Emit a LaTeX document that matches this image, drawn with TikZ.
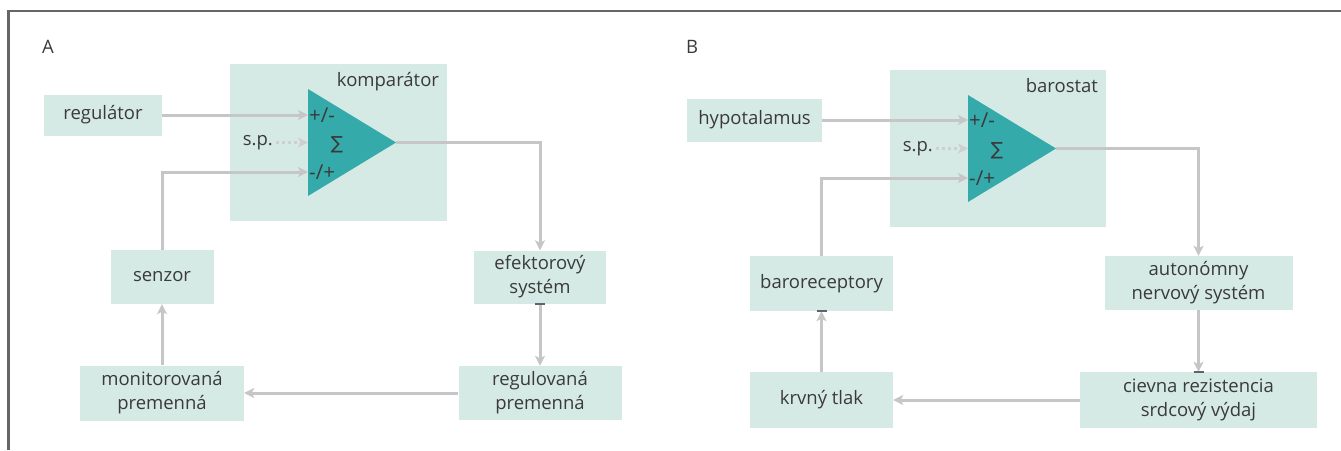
\documentclass[tikz,border=0pt]{standalone}
\usepackage{fontspec}
\setmainfont{Open Sans}
\newfontfamily\sumfont{DejaVu Sans}
\usetikzlibrary{arrows.meta}
\definecolor{mata}{HTML}{D6EAE5}
\definecolor{tyrkys}{HTML}{35AAAA}
\definecolor{siva}{HTML}{C6C6C6}
\definecolor{textsiva}{HTML}{3A3A3A}
\definecolor{ramsiva}{HTML}{666666}
\definecolor{znsiva}{HTML}{5B6470}

\begin{document}
\begin{tikzpicture}[x=1pt, y=-1pt, font=\fontsize{18.5}{24}\selectfont, text=textsiva,
    blok/.style={fill=mata, align=center, inner sep=0pt},
    sipka/.style={draw=siva, line width=3pt, -{Stealth[length=10pt,width=10pt,inset=2.5pt]}},
    tecky/.style={sipka, siva!85, dash pattern=on 3pt off 3pt},
    znak/.style={anchor=west, inner sep=1pt, font=\fontsize{20.5}{24}\selectfont},
    znacka/.style={draw=znsiva, line width=2pt}]
    \useasboundingbox (0,0) rectangle (1341,450);
    \draw[ramsiva, line width=2.2pt] (8.5,450) -- (8.5,11) -- (1341,11);

    % A
    \node (pA) at (48,47) {A};
    \node[blok, minimum width=217pt, minimum height=157pt] (komA) at (338.5,142.5) {};
    \node[anchor=north east, inner sep=8pt] at (komA.north east) {komparátor};
    \fill[tyrkys] (308,89) -- (396,142.5) coordinate (apexA) -- (308,196) -- cycle;
    \coordinate (inA1) at (308,115); \coordinate (inA2) at (308,142.5); \coordinate (inA3) at (308,172);
    \node[znak] at (inA1) {+/-};
    \node[znak] at (inA3) {-/+};
    \node at (337,145) {\sumfont\fontsize{18}{20}\selectfont ∑};
    \node[anchor=east, inner sep=3pt] (spA) at (276,142.5) {s.p.};
    \node[blok, minimum width=118pt, minimum height=41pt] (regA) at (103,115) {regulátor};
    \node[blok, minimum width=132pt, minimum height=53pt] (efA) at (540,277) {efektorový\\systém};
    \node[blok, minimum width=163pt, minimum height=54pt] (regvA) at (540,393) {regulovaná\\premenná};
    \node[blok, minimum width=164pt, minimum height=55pt] (monA) at (162,393) {monitorovaná\\premenná};
    \node[blok, minimum width=103pt, minimum height=54pt] (senA) at (162,277) {senzor};
    \draw[sipka] (regA) -- (inA1);
    \draw[tecky] (spA.east) -- (inA2);
    \draw[sipka] (senA) |- (inA3);
    \draw[sipka] (apexA) -| (efA);
    \draw[sipka] (efA) -- (regvA);
    \draw[sipka] (regvA) -- (monA);
    \draw[sipka] (monA) -- (senA);
    \draw[znacka] ([xshift=-5pt]efA.south) -- ([xshift=5pt]efA.south);

    % B
    \node (pB) at (692,47) {B};
    \node[blok, minimum width=216pt, minimum height=157pt] (barB) at (998,148.5) {};
    \node[anchor=north east, inner sep=8pt] at (barB.north east) {barostat};
    \fill[tyrkys] (968,95) -- (1056,148.5) coordinate (apexB) -- (968,202) -- cycle;
    \coordinate (inB1) at (968,120); \coordinate (inB2) at (968,148.5); \coordinate (inB3) at (968,178);
    \node[znak] at (inB1) {+/-};
    \node[znak] at (inB3) {-/+};
    \node at (997,151) {\sumfont\fontsize{18}{20}\selectfont ∑};
    \node[anchor=east, inner sep=3pt] (spB) at (936,148.5) {s.p.};
    \node[blok, minimum width=135pt, minimum height=43pt] (hypB) at (754.5,120) {hypotalamus};
    \node[blok, minimum width=188pt, minimum height=54pt] (autB) at (1198.5,283) {autonómny\\nervový systém};
    \node[blok, minimum width=237pt, minimum height=56pt] (cievB) at (1198.5,400) {cievna rezistencia\\srdcový výdaj};
    \node[blok, minimum width=143pt, minimum height=56pt] (krvB) at (821.5,400) {krvný tlak};
    \node[blok, minimum width=143pt, minimum height=55pt] (baroB) at (821.5,283.5) {baroreceptory};
    \draw[sipka] (hypB) -- (inB1);
    \draw[tecky] (spB.east) -- (inB2);
    \draw[sipka] (baroB) |- (inB3);
    \draw[sipka] (apexB) -| (autB);
    \draw[sipka] (autB) -- (cievB);
    \draw[sipka] (cievB) -- (krvB);
    \draw[sipka] (krvB) -- (baroB);
    \draw[znacka] ([xshift=-5pt]baroB.south) -- ([xshift=5pt]baroB.south);
    \draw[znacka] ([xshift=-5pt]cievB.north) -- ([xshift=5pt]cievB.north);
\end{tikzpicture}
\end{document}
